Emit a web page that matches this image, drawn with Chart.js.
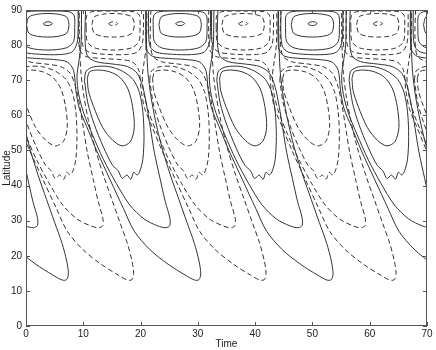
<!DOCTYPE html>
<html>
<head>
<meta charset="utf-8">
<script src="https://cdn.jsdelivr.net/npm/chart.js@4.4.0/dist/chart.umd.min.js"></script>
<style>
  html, body { margin: 0; background: #fff; }
  #wrap { width: 436px; height: 350px; }
</style>
</head>
<body>
<div id="wrap"><canvas id="contourChart"></canvas></div>
<script>
// time of each polar vortex centre (lat ~86)
const positivePhases = [-19.3, 3.8, 26.9, 50.0, 73.1];   // solid contours
const negativePhases = [-7.9, 15.2, 37.9, 61.4];         // dashed contours

const timeTicks = [0, 10, 20, 30, 40, 50, 60, 70];
const latTicks = [0, 10, 20, 30, 40, 50, 60, 70, 80, 90];

// one cycle of contours, as [time after vortex centre, latitude]
const vortexCore = [[-0.8, 86.1], [-0.3, 86.6], [0.4, 86.6], [0.8, 86.1], [0.2, 85.6], [-0.5, 85.7], [-0.8, 86.1]];
const vortexInner = [[-3.7, 85.8], [-3.3, 88.0], [-1.8, 88.8], [0, 89.0], [1.8, 88.8], [3.3, 88.0], [3.7, 85.8],
  [3.3, 83.4], [1.8, 82.5], [0, 82.3], [-1.8, 82.5], [-3.3, 83.4], [-3.7, 85.8]];
const vortexMiddle = [[-4.7, 85], [-4.6, 88.4], [-3.7, 89.5], [0, 89.7], [3.7, 89.5], [4.6, 88.5], [4.7, 85],
  [4.5, 81], [3.2, 79.2], [0, 78.6], [-3.2, 79.2], [-4.5, 81], [-4.7, 85]];
const vortexOuter = [[-5.5, 90], [-5.5, 83], [-5.2, 79.5], [-4.2, 78], [-1.5, 77.4], [2, 77.3], [4.2, 78],
  [5.1, 80.5], [5.3, 85], [5.3, 90]];
// long tongue reaching ~lat 13
const bandOuter = [[-6.0, 90], [-6.0, 82], [-5.8, 78.6], [-4.8, 76.8], [-2, 76.2], [1, 75.9], [3.4, 75.2],
  [4.5, 72.8], [4.9, 67.2], [5.5, 62], [6.8, 56.8], [8.5, 50.1], [10.9, 41.6], [13.2, 33.5], [15.1, 27],
  [17.8, 21.8], [21, 17.6], [24, 14.5], [25.6, 13.1], [26.4, 13.2], [26.7, 15], [26.4, 18.5], [25.6, 23.5],
  [24.3, 29.5], [22.9, 36], [21.4, 43], [19.9, 51], [18.8, 58.5], [18.0, 65.5], [17.5, 72], [17.3, 78],
  [17.2, 84], [17.2, 90]];
// shorter tongue reaching ~lat 28
const bandInner = [[6.6, 90], [6.5, 82], [6.9, 77.0], [8.4, 75.3], [11.4, 74.6], [13.9, 73.9], [15.6, 72.0],
  [16.6, 68], [17.3, 62.5], [17.9, 56.5], [18.6, 49.5], [19.6, 42], [20.5, 35.5], [21.3, 30.8], [21.3, 28.6],
  [20.6, 28.0], [19.2, 28.5], [16.8, 30.5], [14.3, 34.5], [12.0, 40.5], [9.7, 47.5], [7.8, 54.5], [6.3, 60.5],
  [5.4, 66], [5.1, 71], [5.4, 75], [5.8, 80], [5.9, 90]];
// mid-latitude cells
const ovalOuter = [[6.4, 70], [6.7, 72.6], [8.0, 73.8], [10.6, 73.9], [13.0, 72.6], [14.9, 70.2], [16.0, 66.5],
  [16.6, 61], [16.8, 54], [16.6, 47.5], [16.1, 44.2], [15.6, 43.0], [15.0, 43.8], [14.5, 41.8], [13.8, 43.0],
  [13.0, 42.0], [12.3, 44.2], [11.3, 45.8], [9.7, 51], [8.1, 57.5], [7.0, 63.5], [6.4, 70]];
const ovalInner = [[6.9, 70.5], [7.3, 72.4], [8.7, 72.9], [10.8, 72.4], [12.6, 70.8], [14.0, 67.5], [14.8, 62.5],
  [15.1, 56.5], [14.4, 52.5], [13.0, 51.3], [11.4, 52.8], [9.6, 56.5], [8.0, 62.5], [7.1, 67.0], [6.9, 70.5]];

const cycleCurves = [vortexCore, vortexInner, vortexMiddle, vortexOuter, bandOuter, bandInner, ovalOuter, ovalInner];

const datasets = [];
const addCycle = (phase, dashed) => {
  cycleCurves.forEach(curve => {
    datasets.push({
      data: curve.map(([dt, lat]) => ({ x: phase + dt, y: lat })),
      borderColor: '#333',
      borderWidth: 1,
      borderDash: dashed ? [5, 3] : [],
      pointRadius: 0,
      showLine: true,
      tension: 0.3,
      fill: false
    });
  });
};
positivePhases.forEach(p => addCycle(p, false));
negativePhases.forEach(p => addCycle(p, true));

// matlab style box with inward ticks
const boxTicks = {
  id: 'boxTicks',
  afterDraw(chart) {
    const { ctx, chartArea: a, scales: { x, y } } = chart;
    ctx.save();
    ctx.strokeStyle = '#555';
    ctx.lineWidth = 1;
    ctx.beginPath();
    timeTicks.forEach(v => {
      const px = Math.round(x.getPixelForValue(v)) + 0.5;
      ctx.moveTo(px, a.bottom); ctx.lineTo(px, a.bottom - 4);
      ctx.moveTo(px, a.top); ctx.lineTo(px, a.top + 4);
    });
    latTicks.forEach(v => {
      const py = Math.round(y.getPixelForValue(v)) + 0.5;
      ctx.moveTo(a.left, py); ctx.lineTo(a.left + 4, py);
      ctx.moveTo(a.right, py); ctx.lineTo(a.right - 4, py);
    });
    ctx.stroke();
    ctx.strokeRect(a.left + 0.5, a.top + 0.5, a.right - a.left - 1, a.bottom - a.top - 1);
    ctx.restore();
  }
};

const font = { family: '"Liberation Sans", Arial, sans-serif', size: 10 };

new Chart(document.getElementById('contourChart'), {
  type: 'scatter',
  data: { datasets },
  options: {
    responsive: true,
    maintainAspectRatio: false,
    animation: false,
    layout: { padding: { top: 10, right: 9, left: 0, bottom: 0 } },
    plugins: { legend: { display: false }, tooltip: { enabled: false } },
    scales: {
      x: {
        type: 'linear', min: 0, max: 70,
        afterFit: s => { s.height = 24; },
        afterBuildTicks: s => { s.ticks = timeTicks.map(v => ({ value: v })); },
        grid: { display: false, drawTicks: false, tickLength: 0 },
        border: { display: false },
        ticks: { font, color: '#222', padding: 2, maxRotation: 0 },
        title: { display: true, text: 'Time', font, color: '#222', padding: 0 }
      },
      y: {
        type: 'linear', min: 0, max: 90,
        afterFit: s => { s.width = 26; },
        afterBuildTicks: s => { s.ticks = latTicks.map(v => ({ value: v })); },
        grid: { display: false, drawTicks: false, tickLength: 0 },
        border: { display: false },
        ticks: { font, color: '#222', padding: 4 },
        title: { display: true, text: 'Latitude', font, color: '#222', padding: 1 }
      }
    }
  },
  plugins: [boxTicks]
});
</script>
</body>
</html>
